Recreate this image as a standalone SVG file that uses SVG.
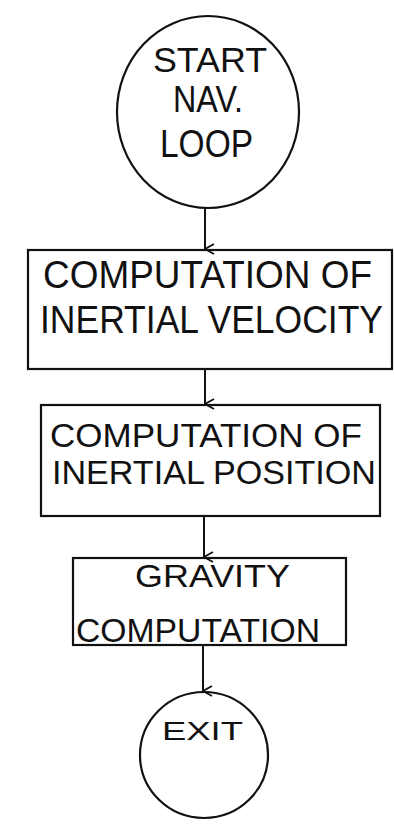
<svg xmlns="http://www.w3.org/2000/svg" width="394" height="826" viewBox="0 0 394 826">
<defs>
<style>
.shape{fill:none;stroke:#111;stroke-width:2.2}
.edge{fill:none;stroke:#111;stroke-width:2}
.lbl{font-family:"Liberation Sans","DejaVu Sans",sans-serif;fill:#111}
</style>
<marker id="arr" viewBox="0 0 12 12" refX="6" refY="11" markerWidth="12" markerHeight="12" markerUnits="userSpaceOnUse" orient="auto-start-reverse">
<path d="M1,2 L6,11 L11,2" fill="none" stroke="#111" stroke-width="1.8"/>
</marker>
</defs>
<rect width="394" height="826" fill="#fff"/>
<g id="connectors">
<line class="edge" x1="205" y1="208" x2="205" y2="249" marker-end="url(#arr)"/>
<line class="edge" x1="205" y1="369" x2="205" y2="404" marker-end="url(#arr)"/>
<line class="edge" x1="204" y1="516" x2="204" y2="557" marker-end="url(#arr)"/>
<line class="edge" x1="203" y1="645" x2="203" y2="691" marker-end="url(#arr)"/>
</g>
<g id="start">
<ellipse class="shape" cx="208" cy="112" rx="91" ry="96"/>
<text class="lbl" x="153" y="72" font-size="35" textLength="114" lengthAdjust="spacingAndGlyphs">START</text>
<text class="lbl" x="173" y="112" font-size="36" textLength="70" lengthAdjust="spacingAndGlyphs">NAV.</text>
<text class="lbl" x="160" y="157" font-size="38" textLength="93" lengthAdjust="spacingAndGlyphs">LOOP</text>
</g>
<g id="velocity">
<rect class="shape" x="28" y="250" width="364" height="119"/>
<text class="lbl" transform="translate(43,288) scale(1,1.1)" font-size="35.5" textLength="329" lengthAdjust="spacingAndGlyphs">COMPUTATION OF</text>
<text class="lbl" transform="translate(40,333) scale(1,1.17)" font-size="33" textLength="343" lengthAdjust="spacingAndGlyphs">INERTIAL VELOCITY</text>
</g>
<g id="position">
<rect class="shape" x="41" y="405" width="339" height="111"/>
<text class="lbl" x="50" y="447" font-size="34" textLength="312" lengthAdjust="spacingAndGlyphs">COMPUTATION OF</text>
<text class="lbl" x="52" y="484" font-size="34" textLength="324" lengthAdjust="spacingAndGlyphs">INERTIAL POSITION</text>
</g>
<g id="gravity">
<rect class="shape" x="73" y="558" width="273" height="87"/>
<text class="lbl" x="135" y="587" font-size="31" textLength="155" lengthAdjust="spacingAndGlyphs">GRAVITY</text>
<text class="lbl" x="76" y="642" font-size="34" textLength="244" lengthAdjust="spacingAndGlyphs">COMPUTATION</text>
</g>
<g id="exit">
<ellipse class="shape" cx="204" cy="755" rx="64" ry="63"/>
<text class="lbl" x="162" y="740" font-size="25" textLength="81" lengthAdjust="spacingAndGlyphs">EXIT</text>
</g>
</svg>
